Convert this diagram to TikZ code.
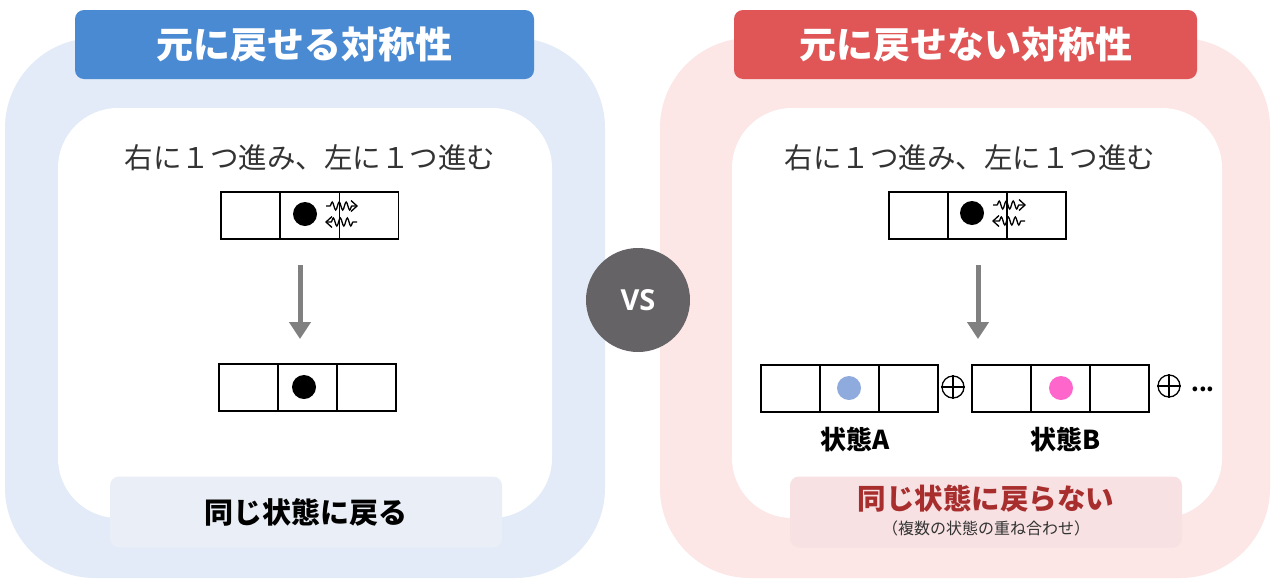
\documentclass[tikz,border=0pt]{standalone}
\usepackage{fontspec}
\setmainfont{Noto Sans CJK JP}
\newfontfamily\vsfont{Open Sans}
\usetikzlibrary{arrows.meta,decorations.pathmorphing}
\definecolor{lbg}{HTML}{E2EBF7}
\definecolor{rbg}{HTML}{FCE6E6}
\definecolor{ltitle}{HTML}{4A8AD3}
\definecolor{rtitle}{HTML}{E05555}
\definecolor{llab}{HTML}{EAEFF7}
\definecolor{rlab}{HTML}{F7E1E3}
\definecolor{redtxt}{HTML}{A82D2D}
\definecolor{vsgray}{HTML}{666366}
\definecolor{arrgray}{HTML}{808080}
\definecolor{txtgray}{HTML}{333333}
\definecolor{dotA}{HTML}{8FAADC}
\definecolor{dotB}{HTML}{FF66CC}
\begin{document}
\begin{tikzpicture}[x=1pt,y=-1pt,
  cell/.style={draw=black,line width=1.4pt,minimum width=59pt,minimum height=47pt,inner sep=0pt,fill=white},
  dot/.style={circle,fill=black,minimum size=24pt,inner sep=0pt},
  titlebox/.style={rounded corners=9pt,minimum width=459pt,minimum height=69pt,inner sep=0pt,text=white,font=\fontsize{37}{42}\selectfont\bfseries},
  labbox/.style={rounded corners=9pt,minimum width=392pt,minimum height=71pt,inner sep=0pt},
  bodytxt/.style={text=txtgray,font=\fontsize{28.5}{33}\selectfont},
  bigarrow/.style={draw=arrgray,line width=5pt,-{Triangle[length=17pt,width=21pt]}},
  wavy/.style={line width=1.3pt,decorate,decoration={snake,amplitude=4pt,segment length=7pt,pre length=4pt,post length=5pt}},
  wtip/.style={line width=1.3pt,line join=miter},
  oplus/.style={circle,draw=black,line width=1.3pt,minimum size=22pt,inner sep=0pt},
  statelab/.style={font=\fontsize{26}{30}\selectfont\bfseries}
]
\useasboundingbox (0,0) rectangle (1274,579);
\fill[white] (0,0) rectangle (1274,579);
% panels
\fill[lbg,rounded corners=90pt] (5,38) rectangle (605,578);
\fill[rbg,rounded corners=90pt] (660,38) rectangle (1270,578);
\fill[white,rounded corners=60pt] (58,108) rectangle (552,518);
\fill[white,rounded corners=60pt] (732,108) rectangle (1222,518);
% titles
\node[titlebox,fill=ltitle] (ltitle) at (304.5,44.5) {元に戻せる対称性};
\node[titlebox,fill=rtitle,minimum width=463pt] (rtitle) at (965.5,44.5) {元に戻せない対称性};
% VS
\node[circle,fill=vsgray,minimum size=104pt,inner sep=0pt,text=white,font=\vsfont\fontsize{29}{32}\selectfont\bfseries] (vs) at (638,300) {VS};
% left body
\node[bodytxt] (ltext) at (310,158) {右に１つ進み、左に１つ進む};
\node[cell] (l1a) at (250.5,215.5) {};
\node[cell] (l1b) at (310,215.5) {};
\node[cell] (l1c) at (369,215.5) {};
\node[dot] (l1d) at (305,214) {};
\coordinate (lw1s) at (326,206);
\coordinate (lw1e) at (357,206);
\coordinate (lw2s) at (357,222);
\coordinate (lw2e) at (326,222);
\draw[wavy] (lw1s) -- (lw1e);
\draw[wtip] ([shift={(-6,-5.5)}]lw1e) -- (lw1e) -- ([shift={(-6,5.5)}]lw1e);
\draw[wavy] (lw2s) -- (lw2e);
\draw[wtip] ([shift={(6,-5.5)}]lw2e) -- (lw2e) -- ([shift={(6,5.5)}]lw2e);
\coordinate (la1) at (300,265);
\coordinate (la2) at (300,339);
\draw[bigarrow] (la1) -- (la2);
\node[cell] (l2a) at (248.5,387.5) {};
\node[cell] (l2b) at (307.5,387.5) {};
\node[cell] (l2c) at (366.5,387.5) {};
\node[dot] (l2d) at (304,387) {};
\node[labbox,fill=llab] (llab) at (306,512) {};
\node[font=\fontsize{29}{33}\selectfont\bfseries,text=black] (llabt) at (306,512) {同じ状態に戻る};
% right body
\node[bodytxt] (rtext) at (970,158) {右に１つ進み、左に１つ進む};
\node[cell] (r1a) at (918.5,215.5) {};
\node[cell] (r1b) at (977.5,215.5) {};
\node[cell] (r1c) at (1036.5,215.5) {};
\node[dot] (r1d) at (972,213) {};
\coordinate (rw1s) at (993,205);
\coordinate (rw1e) at (1025,205);
\coordinate (rw2s) at (1025,221);
\coordinate (rw2e) at (993,221);
\draw[wavy] (rw1s) -- (rw1e);
\draw[wtip] ([shift={(-6,-5.5)}]rw1e) -- (rw1e) -- ([shift={(-6,5.5)}]rw1e);
\draw[wavy] (rw2s) -- (rw2e);
\draw[wtip] ([shift={(6,-5.5)}]rw2e) -- (rw2e) -- ([shift={(6,5.5)}]rw2e);
\coordinate (ra1) at (978,265);
\coordinate (ra2) at (978,339);
\draw[bigarrow] (ra1) -- (ra2);
\node[cell] (sa1) at (790.5,388.5) {};
\node[cell] (sa2) at (849.5,388.5) {};
\node[cell] (sa3) at (908.5,388.5) {};
\node[dot,fill=dotA] (sad) at (849,388) {};
\node[oplus] (p1) at (953,387) {};
\draw[line width=1.3pt] (p1.north) -- (p1.south) (p1.west) -- (p1.east);
\node[cell] (sb1) at (1001.5,388.5) {};
\node[cell] (sb2) at (1060.5,388.5) {};
\node[cell] (sb3) at (1119.5,388.5) {};
\node[dot,fill=dotB] (sbd) at (1061,388) {};
\node[oplus] (p2) at (1169,386) {};
\draw[line width=1.3pt] (p2.north) -- (p2.south) (p2.west) -- (p2.east);
\node[font=\fontsize{22}{24}\selectfont\bfseries] (dots) at (1203,389) {...};
\node[statelab] (sal) at (855,440) {状態A};
\node[statelab] (sbl) at (1066,440) {状態B};
\node[labbox,fill=rlab] (rlab) at (986,512) {};
\node[font=\fontsize{28.5}{33}\selectfont\bfseries,text=redtxt] (rlabt) at (986,499) {同じ状態に戻らない};
\node[font=\fontsize{16}{20}\selectfont,text=txtgray] (rlabs) at (986,528) {（複数の状態の重ね合わせ）};
\end{tikzpicture}
\end{document}
